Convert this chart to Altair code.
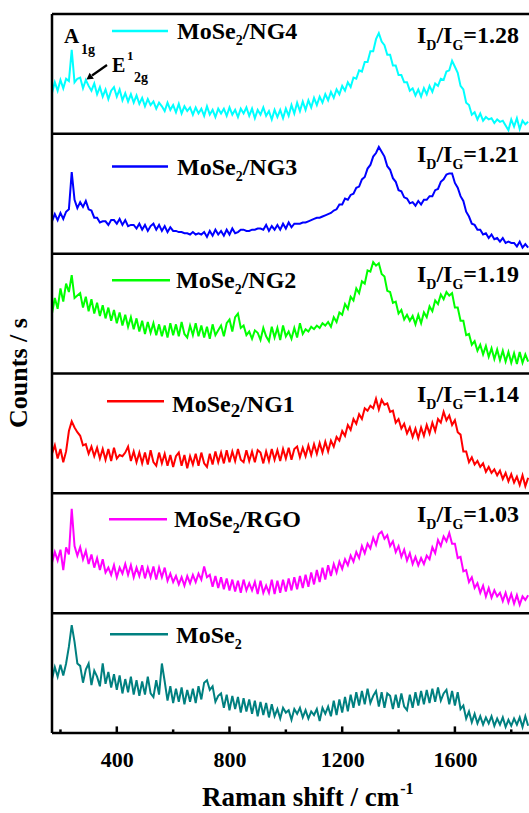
import altair as alt
import pandas as pd

# ---------------- data ----------------
raman_start = 170
raman_step = 10

series_names = ["MoSe2/NG4", "MoSe2/NG3", "MoSe2/NG2", "MoSe2/NG1", "MoSe2/RGO", "MoSe2"]
series_colors = ["#00FFFF", "#0000FF", "#00FF00", "#FF0000", "#FF00FF", "#008080"]
legend_tails = ["/NG4", "/NG3", "/NG2", "/NG1", "/RGO", ""]
ratio_values = ["1.28", "1.21", "1.19", "1.14", "1.03", None]

ng4 = [34, 43, 36, 45, 38, 46, 44, 70, 43, 46,
       47, 38, 45, 40, 36, 42, 33, 39, 31, 37,
       29, 36, 39, 31, 37, 28, 34, 27, 33, 26,
       32, 25, 30, 23, 29, 24, 27, 21, 26, 23,
       19, 26, 20, 24, 18, 25, 17, 23, 19, 22,
       16, 22, 17, 21, 15, 23, 16, 20, 14, 21,
       17, 21, 15, 22, 16, 20, 14, 21, 17, 22,
       15, 21, 13, 20, 16, 22, 15, 19, 12, 20,
       14, 20, 13, 21, 15, 24, 17, 26, 19, 27,
       20, 28, 22, 30, 24, 31, 26, 33, 28, 35,
       30, 37, 33, 40, 36, 43, 39, 47, 46, 53,
       52, 60, 60, 69, 69, 79, 84, 77, 74, 66,
       66, 57, 57, 49, 49, 43, 43, 36, 38, 32,
       37, 31, 38, 33, 40, 35, 42, 40, 46, 45,
       52, 53, 61, 56, 51, 40, 37, 26, 24, 16,
       18, 12, 17, 11, 14, 12, 13, 9, 12, 10,
       11, 7, 3, 12, 6, 13, 4, 11, 8, 10]

ng3 = [27, 33, 28, 34, 29, 35, 37, 68, 45, 38,
       43, 39, 44, 37, 36, 30, 30, 26, 27, 27,
       24, 28, 28, 25, 29, 24, 28, 23, 24, 24,
       21, 25, 20, 24, 19, 23, 25, 20, 24, 19,
       23, 18, 22, 19, 19, 18, 18, 17, 17, 16,
       18, 16, 17, 16, 18, 14, 19, 15, 20, 16,
       19, 15, 20, 16, 21, 17, 18, 20, 20, 19,
       19, 20, 20, 21, 21, 20, 24, 19, 23, 20,
       24, 20, 25, 21, 26, 22, 25, 25, 25, 26,
       26, 27, 28, 29, 30, 30, 31, 32, 33, 34,
       36, 37, 41, 41, 46, 45, 49, 50, 55, 56,
       62, 64, 71, 74, 81, 84, 89, 85, 81, 73,
       70, 63, 60, 53, 52, 47, 46, 42, 43, 40,
       44, 41, 45, 45, 48, 48, 53, 54, 60, 62,
       66, 67, 67, 59, 55, 48, 44, 35, 31, 25,
       24, 20, 20, 16, 17, 13, 16, 12, 13, 10,
       13, 9, 10, 9, 9, 6, 10, 5, 8, 5]

ng2 = [50, 63, 54, 71, 60, 75, 68, 82, 63, 65,
       67, 55, 64, 52, 62, 50, 59, 48, 57, 46,
       55, 44, 53, 42, 51, 40, 49, 39, 47, 37,
       46, 35, 44, 33, 43, 34, 42, 32, 41, 31,
       40, 30, 42, 32, 41, 31, 43, 33, 30, 40,
       32, 42, 31, 40, 30, 39, 29, 41, 32, 36,
       40, 31, 42, 45, 35, 47, 50, 38, 40, 32,
       35, 29, 36, 34, 28, 38, 31, 27, 39, 30,
       38, 28, 40, 31, 35, 29, 38, 30, 42, 33,
       37, 35, 39, 37, 40, 38, 42, 40, 43, 39,
       47, 43, 51, 49, 58, 54, 64, 61, 71, 67,
       77, 75, 86, 85, 93, 90, 92, 83, 81, 69,
       68, 59, 60, 50, 53, 45, 49, 44, 48, 41,
       49, 42, 51, 47, 56, 52, 61, 58, 66, 62,
       68, 65, 67, 55, 55, 44, 44, 32, 33, 24,
       27, 19, 24, 16, 23, 14, 21, 12, 20, 11,
       19, 10, 18, 9, 17, 8, 18, 9, 16, 10]

ng1 = [33, 40, 29, 37, 26, 35, 52, 60, 55, 51,
       48, 40, 41, 33, 39, 31, 38, 29, 37, 28,
       37, 27, 38, 29, 32, 31, 34, 39, 27, 35,
       26, 34, 25, 34, 24, 36, 26, 23, 34, 25,
       33, 23, 32, 22, 31, 34, 23, 32, 21, 31,
       24, 33, 23, 34, 25, 22, 33, 24, 35, 26,
       34, 25, 36, 26, 35, 27, 37, 28, 26, 36,
       27, 35, 26, 36, 34, 25, 35, 27, 37, 28,
       36, 27, 37, 29, 38, 28, 37, 39, 30, 38,
       31, 40, 32, 41, 33, 42, 34, 43, 35, 44,
       39, 47, 44, 52, 48, 57, 53, 62, 58, 66,
       62, 71, 69, 73, 71, 79, 70, 78, 74, 75,
       68, 69, 59, 62, 54, 58, 50, 55, 47, 54,
       46, 55, 48, 57, 50, 59, 52, 62, 59, 68,
       61, 65, 57, 61, 51, 49, 35, 35, 26, 30,
       24, 27, 22, 25, 18, 22, 17, 20, 15, 19,
       12, 17, 10, 16, 9, 14, 7, 15, 6, 13]

rgo = [42, 51, 44, 53, 36, 55, 49, 87, 56, 48,
       55, 45, 52, 41, 49, 38, 46, 36, 45, 34,
       38, 32, 40, 30, 38, 33, 41, 32, 40, 30,
       38, 31, 40, 29, 38, 30, 39, 28, 38, 30,
       38, 27, 33, 26, 31, 24, 30, 23, 31, 25,
       32, 26, 33, 28, 39, 30, 32, 22, 31, 21,
       30, 20, 29, 19, 28, 18, 27, 17, 28, 19,
       25, 19, 26, 16, 27, 17, 23, 17, 28, 16,
       27, 17, 28, 18, 29, 19, 30, 20, 31, 21,
       32, 22, 34, 24, 36, 26, 38, 28, 40, 31,
       41, 34, 43, 37, 45, 40, 48, 43, 51, 46,
       56, 50, 58, 54, 63, 57, 66, 68, 62, 65,
       56, 60, 51, 56, 47, 53, 44, 50, 41, 47,
       40, 46, 41, 48, 45, 55, 50, 61, 56, 64,
       60, 67, 58, 58, 46, 47, 35, 36, 26, 30,
       21, 25, 17, 23, 14, 21, 13, 19, 14, 17,
       10, 17, 9, 16, 8, 15, 7, 14, 11, 15]

mose2 = [45, 55, 47, 57, 48, 58, 72, 90, 76, 58,
         56, 42, 53, 58, 40, 52, 47, 39, 58, 41,
         51, 38, 49, 36, 48, 33, 45, 34, 47, 32,
         44, 31, 43, 32, 47, 33, 30, 44, 32, 58,
         43, 27, 39, 25, 37, 26, 38, 24, 36, 26,
         37, 25, 39, 28, 42, 44, 36, 39, 26, 31,
         33, 21, 32, 19, 31, 20, 30, 17, 29, 18,
         28, 16, 27, 14, 26, 15, 25, 13, 24, 14,
         20, 12, 21, 17, 19, 11, 20, 16, 21, 13,
         19, 12, 18, 15, 20, 10, 21, 16, 22, 14,
         27, 15, 28, 17, 30, 18, 32, 21, 34, 23,
         35, 24, 37, 25, 31, 35, 22, 34, 21, 33,
         31, 20, 32, 21, 33, 22, 19, 32, 21, 34,
         23, 35, 24, 36, 25, 37, 26, 38, 27, 33,
         36, 24, 35, 23, 34, 20, 23, 12, 18, 9,
         16, 8, 14, 7, 13, 8, 14, 6, 12, 7,
         13, 5, 11, 6, 12, 7, 13, 5, 14, 6]

spectra = [ng4, ng3, ng2, ng1, rgo, mose2]

major_ticks = [400, 800, 1200, 1600]
minor_ticks = [200, 600, 1000, 1400, 1800]

# ---------------- layout ----------------
LEFT, TOP = 52, 14
PLOT_W, PLOT_H = 477, 719
X_DOM = [170, 1863]
N = 6
PANEL = 100
Y_DOM = [0, N * PANEL]
FONT = "Liberation Serif"

def xd(px):
    return X_DOM[0] + (px - LEFT) * (X_DOM[1] - X_DOM[0]) / PLOT_W

def yd(py):
    return Y_DOM[1] - (py - TOP) * (Y_DOM[1] - Y_DOM[0]) / PLOT_H

panel_h_px = PLOT_H / N

W = {"M": 944, "o": 500, "S": 556, "e": 444, "/": 278, "N": 722, "G": 778, "R": 722,
     "O": 778, "I": 389, "D": 722, "=": 570, ".": 250, "A": 722, "E": 667, "g": 500,
     " ": 250, "a": 500, "m": 833, "n": 556, "s": 389, "h": 556, "i": 278, "f": 333,
     "t": 333, "c": 444, "-": 333, "C": 722, "u": 556}
for d in "0123456789":
    W[d] = 500

def width(txt, size):
    return sum(W.get(c, 500) for c in txt) / 1000.0 * size

# ---------------- build tables ----------------
rows = []
for i, (name, vals) in enumerate(zip(series_names, spectra)):
    off = (N - 1 - i) * PANEL
    for k, v in enumerate(vals):
        rows.append({"shift": raman_start + k * raman_step, "counts": v + off, "series": name})
spec_df = pd.DataFrame(rows)

legend_line_dy = [17, 32.7, 26.7, 27.7, 26, 21]
legend_text_dy = [25, 41, 34, 38, 34, 30]
legend_text_x = [177, 177, 176, 172, 174, 176]
legend_line_x = [(112, 168), (112, 168), (112, 170), (107, 164), (109, 167), (110, 168)]
sub2_size = [14, 14, 14, 19, 14, 14]
sub2_dy = [6, 6, 6, 5, 6, 6]
MAIN = 24
SUB = 14

seg = []  # text segments
leg = []
for i in range(N):
    ptop = TOP + i * panel_h_px
    x0, x1 = legend_line_x[i]
    ly = ptop + legend_line_dy[i]
    leg.append({"x": xd(x0), "x2": xd(x1), "y": yd(ly), "series": series_names[i]})
    tx = legend_text_x[i]
    by = ptop + legend_text_dy[i]
    seg.append({"x": xd(tx), "y": yd(by), "t": "MoSe", "s": MAIN})
    tx += width("MoSe", MAIN)
    seg.append({"x": xd(tx), "y": yd(by + sub2_dy[i]), "t": "2", "s": sub2_size[i]})
    tx += width("2", sub2_size[i])
    if legend_tails[i]:
        seg.append({"x": xd(tx), "y": yd(by), "t": legend_tails[i], "s": MAIN})
    if ratio_values[i]:
        rx = 417
        ry = ptop + 28.5
        for t, s, dy in [("I", MAIN, 0), ("D", SUB, 7), ("/I", MAIN, 0), ("G", SUB, 7),
                         ("=" + ratio_values[i], MAIN, 0)]:
            seg.append({"x": xd(rx), "y": yd(ry + dy), "t": t, "s": s})
            rx += width(t, s)

# peak labels
for t, s, px, py in [("A", 21, 64, 43), ("1g", 14, 81, 54), ("E", 20, 112, 72),
                     ("1", 13, 127, 60), ("2g", 14, 134, 82)]:
    seg.append({"x": xd(px), "y": yd(py), "t": t, "s": s})

# x title
tx0 = 202
seg.append({"x": xd(tx0), "y": yd(806), "t": "Raman shift / cm", "s": 27})
seg.append({"x": xd(tx0 + width("Raman shift / cm", 27) + 1), "y": yd(794), "t": "-1", "s": 16})

seg_df = pd.DataFrame(seg)
leg_df = pd.DataFrame(leg)

xs = alt.Scale(domain=X_DOM, nice=False, zero=False)
ys = alt.Scale(domain=Y_DOM, nice=False, zero=False)
cs = alt.Scale(domain=series_names, range=series_colors)
x_axis = alt.Axis(values=major_ticks, format="d", ticks=False, domain=False, grid=False,
                  labelFont=FONT, labelFontSize=22, labelFontWeight="bold",
                  labelColor="black", labelBaseline="alphabetic", labelPadding=33,
                  title=None, labelFlush=False)

def X(field):
    return alt.X(field, scale=xs, axis=x_axis, title=None)

def Y(field):
    return alt.Y(field, scale=ys, axis=None)

lines = alt.Chart(spec_df).mark_line(strokeWidth=2).encode(
    x=X("shift:Q"), y=Y("counts:Q"),
    color=alt.Color("series:N", scale=cs, legend=None),
    detail="series:N",
)

sep = alt.Chart(pd.DataFrame({"y": [k * PANEL for k in range(N + 1)]})).mark_rule(
    color="black", strokeWidth=2.5).encode(y=Y("y:Q"))

left = alt.Chart(pd.DataFrame({"x": [X_DOM[0]]})).mark_rule(
    color="black", strokeWidth=2.5).encode(x=X("x:Q"))

tick_df = pd.DataFrame({"x": major_ticks + minor_ticks,
                        "y": [0] * (len(major_ticks) + len(minor_ticks)),
                        "y2": [5.5] * len(major_ticks) + [3] * len(minor_ticks)})
ticks = alt.Chart(tick_df).mark_rule(color="black", strokeWidth=2.5).encode(
    x=X("x:Q"), y=Y("y:Q"), y2="y2:Q")

legend_lines = alt.Chart(leg_df).mark_rule(strokeWidth=2.5).encode(
    x=X("x:Q"), x2="x2:Q", y=Y("y:Q"),
    color=alt.Color("series:N", scale=cs, legend=None))

texts = alt.Chart(seg_df).mark_text(align="left", baseline="alphabetic", font=FONT,
                                    fontWeight="bold", color="black").encode(
    x=X("x:Q"), y=Y("y:Q"),
    text="t:N", size=alt.Size("s:Q", scale=None, legend=None))

ytitle = alt.Chart(pd.DataFrame({"x": [xd(19)], "y": [yd(373)], "t": ["Counts / s"]})).mark_text(
    align="center", baseline="middle", angle=270, font=FONT, fontWeight="bold",
    fontSize=26, color="black").encode(x=X("x:Q"), y=Y("y:Q"), text="t:N")

arrow_df = pd.DataFrame({"x": [xd(107)], "x2": [xd(92)], "y": [yd(65)], "y2": [yd(75.5)]})
arrow_line = alt.Chart(arrow_df).mark_rule(color="black", strokeWidth=2.2).encode(
    x=X("x:Q"), x2="x2:Q", y=Y("y:Q"), y2="y2:Q")
head_df = pd.DataFrame({"x": [xd(90)], "y": [yd(77)]})
arrow_head = alt.Chart(head_df).mark_point(shape="triangle", filled=True, size=55,
                                           angle=235, color="black", opacity=1).encode(
    x=X("x:Q"), y=Y("y:Q"))

chart = alt.layer(lines, sep, left, ticks, legend_lines, texts, ytitle, arrow_line, arrow_head).properties(
    width=PLOT_W, height=PLOT_H,
    autosize=alt.AutoSizeParams(type="none"),
    padding={"left": LEFT, "top": TOP, "right": 0, "bottom": 813 - TOP - PLOT_H},
    background="white",
).configure_view(stroke=None)

chart.save("out.html", embed_options={"renderer": "svg", "actions": False})
